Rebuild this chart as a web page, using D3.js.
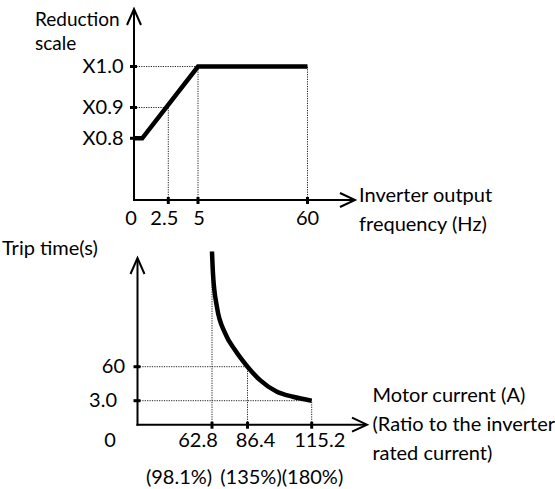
<!DOCTYPE html>
<html><head><meta charset="utf-8">
<script src="https://cdn.jsdelivr.net/npm/d3@7"></script>
<style>
html,body{margin:0;padding:0;background:#fff;}
text{font-family:Lato,"Open Sans",sans-serif;font-size:20px;fill:#000;}
</style></head>
<body>
<svg id="c" width="555" height="489"></svg>
<script>
// ---- data ----
const topXTicks = [0, 2.5, 5, 60];
const topXLabels = ["0", "2.5", "5", "60"];
const topYTicks = [0.8, 0.9, 1.0];
const topYLabels = ["X0.8", "X0.9", "X1.0"];
const reductionCurve = [[0, 0.8], [0.6, 0.8], [5, 1.0], [60, 1.0]];
const topGuideX = [[2.5, 0.9], [5, 1.0], [60, 1.0]];   // vertical dotted guides [x, y-end]
const topGuideY = [[0.9, 2.5], [1.0, 5]];              // horizontal dotted guides [y, x-end]

const botXTicks = [62.8, 86.4, 115.2];
const botXLabels = ["62.8", "86.4", "115.2"];
const botXPct = ["(98.1%)", "(135%)", "(180%)"];
const botYTicks = [3.0, 60];
const botYLabels = ["3.0", "60"];
const tripCurve = [[62.8, 300], [63.45, 254], [66.1, 184], [71.5, 130], [78.1, 94.6],
  [86.4, 60], [91.9, 37.9], [99.4, 18.4], [106.8, 9.6], [115.2, 3.0]];
const botGuideX = [[62.8, 300], [86.4, 60], [115.2, 3.0]];
const botGuideY = [[60, 86.4], [3.0, 115.2]];

// ---- scales (schematic, piecewise) ----
const tx = d3.scaleLinear().domain([0, 2.5, 5, 60]).range([134, 168.3, 198, 307.5]);
const ty = d3.scaleLinear().domain([0, 0.8, 0.9, 1.0]).range([200, 138.3, 107.5, 66.5]);
const bx = d3.scaleLinear().domain([0, 62.8, 86.4, 115.2]).range([137.5, 212, 247.5, 311.7]);
const by = d3.scaleLinear().domain([0, 3, 60, 300]).range([424.7, 400.7, 366.7, 251.5]);

const svg = d3.select("#c");

function arrowUp(g, x, tipY){
  g.append("path").attr("d", `M${x-7},${tipY+16}L${x},${tipY}L${x+7},${tipY+16}`)
    .attr("fill","none").attr("stroke","#000").attr("stroke-width",2);
}
function arrowRight(g, tipX, y){
  g.append("path").attr("d", `M${tipX-15},${y-7}L${tipX},${y}L${tipX-15},${y+7}`)
    .attr("fill","none").attr("stroke","#000").attr("stroke-width",2);
}
const dotted = sel => sel.attr("stroke","#222").attr("stroke-width",1).attr("stroke-dasharray","1.2,1.2").attr("fill","none");

// ================= TOP CHART =================
const gt = svg.append("g");
topGuideX.forEach(([v, ye]) => gt.append("line").attr("x1", tx(v)).attr("x2", tx(v)).attr("y1", ty(0)).attr("y2", ty(ye)).call(dotted));
topGuideY.forEach(([v, xe]) => gt.append("line").attr("x1", tx(0)).attr("x2", tx(xe)).attr("y1", ty(v)).attr("y2", ty(v)).call(dotted));
gt.append("line").attr("x1", tx(0)).attr("x2", tx(0)).attr("y1", ty(0)+1).attr("y2", 9).attr("stroke","#000").attr("stroke-width",2);
arrowUp(gt, tx(0), 9);
gt.append("line").attr("x1", tx(0)-1).attr("x2", 354).attr("y1", ty(0)).attr("y2", ty(0)).attr("stroke","#000").attr("stroke-width",2);
arrowRight(gt, 355, ty(0));
topXTicks.slice(1).forEach(v => gt.append("line").attr("x1", tx(v)).attr("x2", tx(v)).attr("y1", ty(0)-3).attr("y2", ty(0)+4).attr("stroke","#000").attr("stroke-width",3));
topYTicks.forEach(v => gt.append("line").attr("x1", tx(0)-4).attr("x2", tx(0)+3).attr("y1", ty(v)).attr("y2", ty(v)).attr("stroke","#000").attr("stroke-width",3));
gt.append("path").datum(reductionCurve)
  .attr("d", d3.line().x(d => tx(d[0])).y(d => ty(d[1])))
  .attr("fill","none").attr("stroke","#000").attr("stroke-width",4.5).attr("stroke-linejoin","miter");
const txOff = [-3, -4, 1, 0];
topXTicks.forEach((v, i) => gt.append("text").attr("x", tx(v) + txOff[i]).attr("y", 225).attr("text-anchor","middle").text(topXLabels[i]));
topYTicks.forEach((v, i) => gt.append("text").attr("x", 123.5).attr("y", ty(v)+6.5).attr("text-anchor","end").text(topYLabels[i]));
gt.append("text").attr("x", 35).attr("y", 26).style("font-size","19px").text("Reduction");
gt.append("text").attr("x", 35).attr("y", 50).style("font-size","19px").text("scale");
gt.append("text").attr("x", 359).attr("y", 201.5).text("Inverter output");
gt.append("text").attr("x", 359).attr("y", 231).text("frequency (Hz)");

// ================= BOTTOM CHART =================
const gb = svg.append("g");
botGuideX.forEach(([v, ye]) => gb.append("line").attr("x1", bx(v)).attr("x2", bx(v)).attr("y1", by(0)).attr("y2", by(ye)).call(dotted));
botGuideY.forEach(([v, xe]) => gb.append("line").attr("x1", bx(0)).attr("x2", bx(xe)).attr("y1", by(v)).attr("y2", by(v)).call(dotted));
gb.append("line").attr("x1", bx(0)).attr("x2", bx(0)).attr("y1", by(0)+1).attr("y2", 259).attr("stroke","#000").attr("stroke-width",2);
arrowUp(gb, bx(0), 258);
gb.append("line").attr("x1", bx(0)-1).attr("x2", 366).attr("y1", by(0)).attr("y2", by(0)).attr("stroke","#000").attr("stroke-width",2);
arrowRight(gb, 367, by(0));
botXTicks.forEach(v => gb.append("line").attr("x1", bx(v)).attr("x2", bx(v)).attr("y1", by(0)-3).attr("y2", by(0)+4).attr("stroke","#000").attr("stroke-width",3));
botYTicks.forEach(v => gb.append("line").attr("x1", bx(0)-4).attr("x2", bx(0)+3).attr("y1", by(v)).attr("y2", by(v)).attr("stroke","#000").attr("stroke-width",3));
gb.append("path").datum(tripCurve)
  .attr("d", d3.line().x(d => bx(d[0])).y(d => by(d[1])).curve(d3.curveMonotoneX))
  .attr("fill","none").attr("stroke","#000").attr("stroke-width",4.5);
const bxOff = [-14, 8, 8];
botXTicks.forEach((v, i) => gb.append("text").attr("x", bx(v)+bxOff[i]).attr("y", 446.5).attr("text-anchor","middle").text(botXLabels[i]));
const pctX = [179, 251, 312.5];
botXTicks.forEach((v, i) => gb.append("text").attr("x", pctX[i]).attr("y", 484).attr("text-anchor","middle").text(botXPct[i]));
const byRight = [117, 125];
botYTicks.forEach((v, i) => gb.append("text").attr("x", byRight[i]).attr("y", by(v)+6.5).attr("text-anchor","end").text(botYLabels[i]));
gb.append("text").attr("x", 110).attr("y", 446.5).attr("text-anchor","middle").text("0");
gb.append("text").attr("x", 2).attr("y", 255).text("Trip time(s)");
gb.append("text").attr("x", 372.5).attr("y", 401.5).text("Motor current (A)");
gb.append("text").attr("x", 372.5).attr("y", 430.5).text("(Ratio to the inverter");
gb.append("text").attr("x", 372.5).attr("y", 460).text("rated current)");
</script>
</body></html>
